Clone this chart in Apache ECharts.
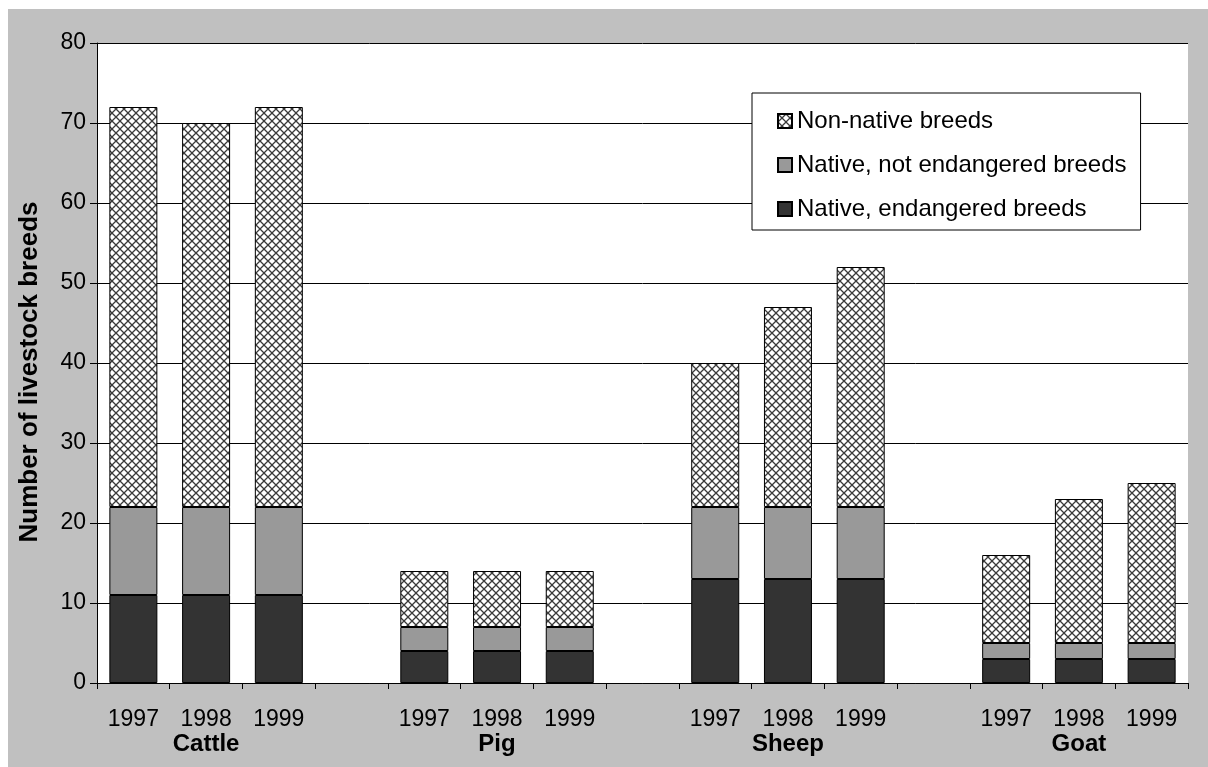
<!DOCTYPE html>
<html><head><meta charset="utf-8">
<script src="https://cdn.jsdelivr.net/npm/echarts@6/dist/echarts.min.js"></script>
<style>
html,body{margin:0;padding:0;background:#fff;width:1208px;height:767px;overflow:hidden}
#c{position:absolute;left:8px;top:9px;width:1200px;height:758px;background:#c0c0c0}
</style></head><body><div id="c"></div>
<script>
const years = ['1997','1998','1999','','1997','1998','1999','','1997','1998','1999','','1997','1998','1999'];
const groups = ['','Cattle','','','','Pig','','','','Sheep','','','','Goat',''];
const endangered    = [11,11,11,null,4,4,4,null,13,13,13,null,3,3,3];
const notEndangered = [11,11,11,null,3,3,3,null,9,9,9,null,2,2,2];
const nonNative     = [50,48,50,null,7,7,7,null,18,25,30,null,11,18,20];
const yTicks = [0,10,20,30,40,50,60,70,80];

const pc = document.createElement('canvas');
pc.width = 8; pc.height = 8;
const g = pc.getContext('2d');
g.fillStyle = '#fff'; g.fillRect(0,0,8,8);
g.strokeStyle = '#3a3a3a'; g.lineWidth = 1.3;
g.beginPath(); g.moveTo(0,0); g.lineTo(8,8); g.moveTo(8,0); g.lineTo(0,8); g.stroke();
const pattern = {image: pc, repeat: 'repeat'};

const chart = echarts.init(document.getElementById('c'), null, {renderer:'canvas'});
const font = 'Liberation Sans, Arial, sans-serif';
const border = {borderColor:'#000', borderWidth:1};
chart.setOption({
  animation:false,
  textStyle:{fontFamily:font},
  grid:{left:89, top:34, right:20, bottom:84, show:true, backgroundColor:'#fff', borderWidth:0},
  legend:{
    left:744, top:84, orient:'vertical', backgroundColor:'#fff', borderColor:'#000', borderWidth:1,
    padding:[16,14,9,25], itemGap:20, itemWidth:14, itemHeight:14, icon:'rect',
    textStyle:{fontSize:24, color:'#000', fontFamily:font},
    data:['Non-native breeds','Native, not endangered breeds','Native, endangered breeds']
  },
  xAxis:[{
    type:'category', data:years, position:'bottom',
    axisLine:{lineStyle:{color:'#000'}},
    axisTick:{show:true, interval:0, length:6, lineStyle:{color:'#000'}},
    axisLabel:{interval:0, fontSize:23, color:'#000', margin:25, fontFamily:font}
  },{
    type:'category', data:groups, position:'bottom', offset:25,
    axisLine:{show:false}, axisTick:{show:false},
    axisLabel:{interval:0, fontSize:24, fontWeight:'bold', color:'#000', margin:24, fontFamily:font}
  }],
  yAxis:{
    type:'value', min:yTicks[0], max:yTicks[yTicks.length-1], interval:10,
    name:'Number of livestock breeds', nameLocation:'middle', nameGap:54,
    nameTextStyle:{fontSize:26, fontWeight:'bold', color:'#000', fontFamily:font, padding:[0,18,0,0]},
    axisLine:{show:true, lineStyle:{color:'#000'}},
    axisTick:{show:true, length:7, lineStyle:{color:'#000'}},
    axisLabel:{fontSize:23, color:'#000', margin:11, fontFamily:font},
    splitLine:{lineStyle:{color:'#000', width:1}}
  },
  series:[
    {name:'Native, endangered breeds', type:'bar', stack:'s', data:endangered, barCategoryGap:'34%', itemStyle:Object.assign({color:'#333333'}, border)},
    {name:'Native, not endangered breeds', type:'bar', stack:'s', data:notEndangered, itemStyle:Object.assign({color:'#999999'}, border)},
    {name:'Non-native breeds', type:'bar', stack:'s', data:nonNative, itemStyle:Object.assign({color:pattern}, border)}
  ]
});
</script></body></html>
